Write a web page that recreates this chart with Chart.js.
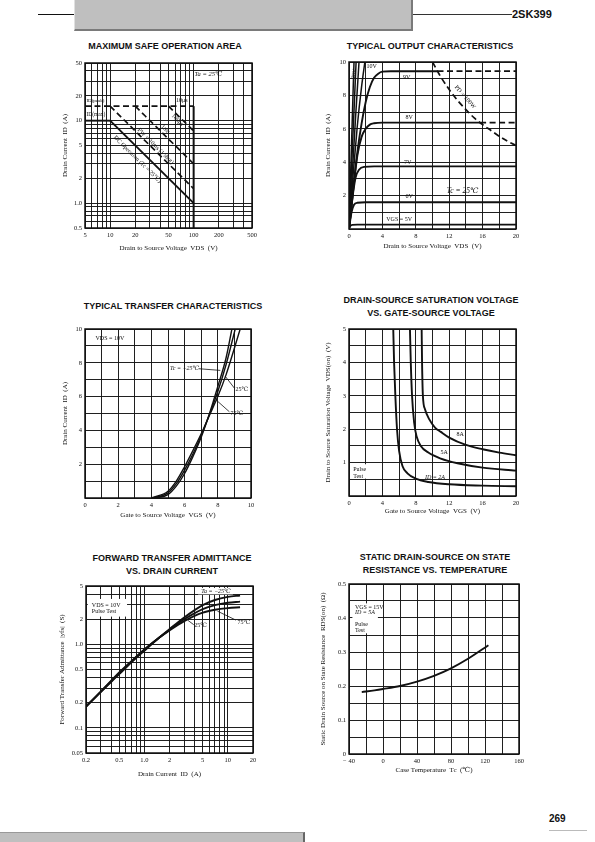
<!DOCTYPE html>
<html>
<head>
<meta charset="utf-8">
<title>2SK399</title>
<script src="https://cdn.jsdelivr.net/npm/chart.js"></script>
<style>
  body { margin: 0; width: 595px; height: 842px; position: relative; background: #fff; overflow: hidden; }
  canvas { position: absolute; }
  .head { position: absolute; width: 220px; font: bold 9px "Liberation Sans", Arial, sans-serif; color: #111;
          text-align: center; white-space: nowrap; line-height: 13px; }
  #lineL { position: absolute; left: 38px; top: 14px; width: 36px; height: 1px; background: #111; }
  #band { position: absolute; left: 74px; top: -3px; width: 336px; height: 32px; background: #bfbfbf;
          border-left: 1px solid #e0e0e0; border-right: 2px solid #7a7a7a; border-bottom: 2px solid #7a7a7a; }
  #lineR { position: absolute; left: 413px; top: 14px; width: 99px; height: 1px; background: #333; }
  #part { position: absolute; left: 512px; top: 8px; font: bold 11px "Liberation Sans", Arial, sans-serif; color: #111; }
  #page { position: absolute; left: 549px; top: 813px; font: bold 10px "Liberation Sans", Arial, sans-serif; color: #111; }
  #pageLine { position: absolute; left: 549px; top: 830px; width: 38px; height: 1px; background: #bbb; }
  #foot { position: absolute; left: 0; top: 832px; width: 303px; height: 12px; background: #bfbfbf;
          border-top: 1px solid #999; border-right: 2px solid #666; }
</style>
</head>
<body>
<div id="lineL"></div><div id="band"></div><div id="lineR"></div><div id="part">2SK399</div>

<div class="head" style="left:55px;top:40px">MAXIMUM SAFE OPERATION AREA</div>
<div class="head" style="left:320px;top:40px">TYPICAL OUTPUT CHARACTERISTICS</div>
<div class="head" style="left:63px;top:300px">TYPICAL TRANSFER CHARACTERISTICS</div>
<div class="head" style="left:321px;top:294px">DRAIN-SOURCE SATURATION VOLTAGE<br>VS. GATE-SOURCE VOLTAGE</div>
<div class="head" style="left:62px;top:552px">FORWARD TRANSFER ADMITTANCE<br>VS. DRAIN CURRENT</div>
<div class="head" style="left:325px;top:551px">STATIC DRAIN-SOURCE ON STATE<br>RESISTANCE VS. TEMPERATURE</div>

<canvas id="soa"></canvas>
<canvas id="output"></canvas>
<canvas id="transfer"></canvas>
<canvas id="sat"></canvas>
<canvas id="yfs"></canvas>
<canvas id="rds"></canvas>

<div id="page">269</div><div id="pageLine"></div><div id="foot"></div>

<script>
// maximum safe operation area (log-log)
const soaXGrid = [5, 6, 7, 8, 9, 10, 20, 30, 40, 50, 60, 70, 80, 90, 100, 200, 300, 400, 500];
const soaXTicks = [5, 10, 20, 50, 100, 200, 500];
const soaYGrid = [0.5, 0.6, 0.7, 0.8, 0.9, 1, 2, 3, 4, 5, 6, 7, 8, 9, 10, 20, 30, 40, 50];
const soaYTicks = [0.5, 1, 2, 5, 10, 20, 50];
const soaYText = ['0.5', '1.0', '2', '5', '10', '20', '50'];
const soaIdMaxV = [5, 10],   soaIdMaxI = [10, 10];
const soaIdPeakV = [5, 100], soaIdPeakI = [15, 15];
const soaDcV = [10, 100],    soaDcI = [10, 1.0];
const soa10msV = [10, 100],  soa10msI = [15, 1.5];
const soa1msV = [20, 100],   soa1msI = [15, 3.0];
const soa100usV = [50, 100], soa100usI = [15, 7.5];
const soaVdssV = [100, 100], soaVdssI = [15, 0.5];

// typical output characteristics
const outXGrid = [0, 2, 4, 6, 8, 10, 12, 14, 16, 18, 20];
const outXTicks = [0, 4, 8, 12, 16, 20];
const outYGrid = [0, 1, 2, 3, 4, 5, 6, 7, 8, 9, 10];
const outYTicks = [2, 4, 6, 8, 10];
const out5V = [0, 0.15, 0.4, 1, 20],            out5I = [0, 0.18, 0.25, 0.26, 0.26];
const out6V = [0, 0.3, 0.6, 1.0, 2, 20],        out6I = [0, 1.0, 1.45, 1.57, 1.6, 1.6];
const out7V = [0, 0.5, 0.8, 1.2, 1.8, 3, 20],   out7I = [0, 2.2, 3.1, 3.55, 3.72, 3.75, 3.75];
const out8V = [0, 0.5, 1, 1.5, 2, 2.5, 3, 4, 15.7], out8I = [0, 2.3, 4.4, 5.5, 6.0, 6.25, 6.33, 6.37, 6.37];
const out8DashV = [15.7, 20], out8DashI = [6.37, 6.37];
const out9V = [0, 0.5, 1, 1.5, 2, 2.5, 3, 3.5, 4, 5, 10.6], out9I = [0, 2.4, 4.6, 6.3, 7.6, 8.5, 9.05, 9.3, 9.42, 9.45, 9.45];
const out9DashV = [10.6, 20], out9DashI = [9.45, 9.45];
const out10V = [0, 0.5, 1, 1.5, 1.9], out10I = [0, 3.3, 6.2, 8.5, 10];
const out12V = [0, 0.4, 0.8, 1.2],    out12I = [0, 3.4, 6.8, 10];
const out15V = [0, 0.3, 0.6, 0.85],   out15I = [0, 3.6, 7.1, 10];
const out20V = [0, 0.25, 0.5, 0.6],   out20I = [0, 4.2, 8.4, 10];
const outPdV = [10, 11, 12, 13, 14, 15, 16, 17, 18, 19, 20];
const outPdI = [10, 9.1, 8.35, 7.7, 7.15, 6.65, 6.25, 5.9, 5.55, 5.25, 5.0];

// typical transfer characteristics
const trXGrid = [0, 1, 2, 3, 4, 5, 6, 7, 8, 9, 10];
const trXTicks = [0, 2, 4, 6, 8, 10];
const trYGrid = [0, 1, 2, 3, 4, 5, 6, 7, 8, 9, 10];
const trYTicks = [2, 4, 6, 8, 10];
const trM25V = [4.2, 5, 5.5, 6, 6.5, 7, 7.5, 8, 8.5, 8.85], trM25I = [0, 0.2, 0.7, 1.45, 2.45, 3.6, 5.0, 6.6, 8.3, 10];
const tr25V = [4.1, 5, 5.5, 6, 6.5, 7, 7.5, 8, 8.5, 9.05],  tr25I = [0, 0.3, 0.85, 1.65, 2.6, 3.7, 4.95, 6.3, 7.9, 10];
const tr75V = [4.0, 5, 5.5, 6, 6.5, 7, 7.5, 8, 8.5, 9.35],  tr75I = [0, 0.4, 1.0, 1.85, 2.8, 3.8, 4.9, 6.0, 7.3, 10];
const trLeadM25V = [6.85, 8.15], trLeadM25I = [7.65, 7.55];
const trLead25V = [9.0, 8.45],   trLead25I = [6.5, 7.2];
const trLead75V = [8.7, 7.9],    trLead75I = [5.1, 5.8];

// drain-source saturation voltage vs gate-source voltage
const satXGrid = [0, 2, 4, 6, 8, 10, 12, 14, 16, 18, 20];
const satXTicks = [0, 4, 8, 12, 16, 20];
const satYGrid = [0, 0.5, 1, 1.5, 2, 2.5, 3, 3.5, 4, 4.5, 5];
const satYTicks = [1, 2, 3, 4, 5];
const sat2AVgs = [5.3, 5.4, 5.55, 5.75, 6.0, 6.4, 7.0, 8.0, 9.5, 12, 16, 20];
const sat2AVds = [5, 4, 3, 2, 1.35, 0.9, 0.68, 0.52, 0.42, 0.35, 0.31, 0.29];
const sat5AVgs = [7.3, 7.4, 7.55, 7.8, 8.1, 8.6, 9.5, 11, 13, 16, 20];
const sat5AVds = [5, 4, 3, 2.2, 1.78, 1.5, 1.3, 1.12, 0.98, 0.85, 0.76];
const sat8AVgs = [8.7, 8.75, 8.85, 9.1, 9.6, 10.3, 11, 12, 14, 16, 18, 20];
const sat8AVds = [5, 4, 3, 2.6, 2.3, 2.05, 1.92, 1.75, 1.53, 1.4, 1.3, 1.22];

// forward transfer admittance vs drain current (log-log)
const yfsXGrid = [0.2, 0.3, 0.4, 0.5, 0.6, 0.7, 0.8, 0.9, 1, 2, 3, 4, 5, 6, 7, 8, 9, 10, 20];
const yfsXTicks = [0.2, 0.5, 1, 2, 5, 10, 20];
const yfsXText = ['0.2', '0.5', '1.0', '2', '5', '10', '20'];
const yfsYGrid = [0.05, 0.06, 0.07, 0.08, 0.09, 0.1, 0.2, 0.3, 0.4, 0.5, 0.6, 0.7, 0.8, 0.9, 1, 2, 3, 4, 5];
const yfsYTicks = [0.05, 0.1, 0.2, 0.5, 1, 2, 5];
const yfsYText = ['0.05', '0.1', '0.2', '0.5', '1.0', '2', '5'];
const yfsId = [0.2, 0.3, 0.5, 0.7, 1, 1.5, 2, 3, 5, 7, 10, 14];
const yfsM25 = [0.18, 0.27, 0.44, 0.61, 0.84, 1.2, 1.52, 2.1, 2.95, 3.4, 3.7, 3.85];
const yfs25 = [0.18, 0.27, 0.45, 0.62, 0.86, 1.2, 1.5, 2.0, 2.65, 2.95, 3.15, 3.25];
const yfs75 = [0.18, 0.27, 0.46, 0.63, 0.87, 1.2, 1.47, 1.9, 2.4, 2.6, 2.72, 2.78];
const yfsLead75X = [12.5, 7.5], yfsLead75Y = [1.95, 2.5];
const yfsLead25X = [3.9, 3.3],  yfsLead25Y = [1.72, 1.95];

// static drain-source on state resistance vs temperature
const rdsXGrid = [-40, -20, 0, 20, 40, 60, 80, 100, 120, 140, 160];
const rdsXTicks = [-40, 0, 40, 80, 120, 160];
const rdsXText = ['− 40', '0', '40', '80', '120', '160'];
const rdsYGrid = [0, 0.05, 0.1, 0.15, 0.2, 0.25, 0.3, 0.35, 0.4, 0.45, 0.5];
const rdsYTicks = [0, 0.1, 0.2, 0.3, 0.4, 0.5];
const rdsTc = [-25, -10, 0, 20, 40, 60, 80, 100, 124];
const rdsOhm = [0.182, 0.187, 0.191, 0.2, 0.213, 0.23, 0.252, 0.28, 0.32];

const SERIF = '"Liberation Serif", "DejaVu Serif", serif';
const INK = '#111';

function pts(xs, ys) { return xs.map((x, i) => ({ x: x, y: ys[i] })); }

function curve(xs, ys, extra) {
  return Object.assign({ data: pts(xs, ys), showLine: true, borderColor: INK, borderWidth: 1.9,
    pointRadius: 0, fill: false, cubicInterpolationMode: 'monotone' }, extra || {});
}
const DASH = { borderDash: [6, 3.5], borderWidth: 1.7 };
const THIN = { borderWidth: 0.8 };

function axis(type, min, max, grid, ticks, text, title, size) {
  return {
    type: type, min: min, max: max,
    afterBuildTicks: s => { s.ticks = grid.map(v => ({ value: v })); },
    afterFit: s => {
      if (s.isHorizontal()) s.height = size; else s.width = size;
      s.paddingLeft = s.paddingRight = s.paddingTop = s.paddingBottom = 0;
    },
    ticks: {
      autoSkip: false, maxRotation: 0, padding: 3, color: INK, font: { family: SERIF, size: 6.5 },
      callback: v => { const i = ticks.indexOf(v); return i < 0 ? '' : (text ? text[i] : String(v)); }
    },
    grid: { color: '#141414', lineWidth: 0.95, drawTicks: false },
    border: { display: false },
    title: { display: true, text: title, padding: 0, color: INK, font: { family: SERIF, size: 7 } }
  };
}

// text labels, white patches and the heavy frame, drawn in data coordinates
function notesPlugin(notes, boxes) {
  return {
    id: 'notes',
    afterDatasetsDraw(chart) {
      const { ctx, chartArea: a } = chart;
      const sx = chart.scales.x, sy = chart.scales.y;
      ctx.save();
      ctx.fillStyle = '#fff';
      (boxes || []).forEach(b => {
        const x1 = sx.getPixelForValue(b[0]), y1 = sy.getPixelForValue(b[1]);
        const x2 = sx.getPixelForValue(b[2]), y2 = sy.getPixelForValue(b[3]);
        ctx.fillRect(Math.min(x1, x2), Math.min(y1, y2), Math.abs(x2 - x1), Math.abs(y2 - y1));
      });
      ctx.fillStyle = INK;
      ctx.textBaseline = 'middle';
      notes.forEach(n => {
        ctx.save();
        ctx.font = (n.italic ? 'italic ' : '') + (n.size || 6.5) + 'px ' + SERIF;
        ctx.textAlign = n.align || 'center';
        ctx.translate(sx.getPixelForValue(n.x), sy.getPixelForValue(n.y));
        let ang = (n.rot || 0) * Math.PI / 180;
        if (n.along) {
          const dx = sx.getPixelForValue(n.along[2]) - sx.getPixelForValue(n.along[0]);
          const dy = sy.getPixelForValue(n.along[3]) - sy.getPixelForValue(n.along[1]);
          ang = Math.atan2(dy, dx);
        }
        ctx.rotate(ang);
        ctx.fillText(n.t, 0, 0);
        ctx.restore();
      });
      ctx.strokeStyle = INK;
      ctx.lineWidth = 1.5;
      ctx.strokeRect(a.left, a.top, a.right - a.left, a.bottom - a.top);
      ctx.restore();
    }
  };
}

function makeChart(id, geo, xAxis, yAxis, datasets, notes, boxes) {
  const left = Math.round(geo.yTitleX - 4), top = geo.T - 10;
  const right = geo.R + 14, bottom = Math.round(geo.xTitleY + 4);
  const cv = document.getElementById(id);
  cv.width = right - left;
  cv.height = bottom - top;
  cv.style.left = left + 'px';
  cv.style.top = top + 'px';
  new Chart(cv.getContext('2d'), {
    type: 'scatter',
    data: { datasets: datasets },
    options: {
      responsive: false, animation: false, events: [],
      layout: { padding: { left: 0, top: 10, right: 14, bottom: 0 } },
      plugins: { legend: { display: false }, tooltip: { enabled: false } },
      scales: { x: xAxis(bottom - geo.B), y: yAxis(geo.L - left) }
    },
    plugins: [notesPlugin(notes, boxes)]
  });
}

makeChart('soa', { L: 85, T: 63, R: 252, B: 228, yTitleX: 65, xTitleY: 248 },
  s => axis('logarithmic', 5, 500, soaXGrid, soaXTicks, null, 'Drain to Source Voltage  VDS  (V)', s),
  s => axis('logarithmic', 0.5, 50, soaYGrid, soaYTicks, soaYText, 'Drain Current  ID  (A)', s),
  [
    curve(soaIdMaxV, soaIdMaxI),
    curve(soaIdPeakV, soaIdPeakI, DASH),
    curve(soaDcV, soaDcI),
    curve(soa10msV, soa10msI, DASH),
    curve(soa1msV, soa1msI, DASH),
    curve(soa100usV, soa100usI, DASH),
    curve(soaVdssV, soaVdssI, { borderWidth: 2 })
  ],
  [
    { x: 150, y: 36, t: 'Ta = 25℃', italic: true },
    { x: 5.2, y: 17.6, t: 'ID(peak)', align: 'left', size: 5 },
    { x: 5.2, y: 11.7, t: 'ID(max)', align: 'left', size: 5.5 },
    { x: 72, y: 17.6, t: '10μs', size: 6 },
    { x: 64, y: 10.2, t: '100μs', size: 6, along: [50, 15, 100, 7.5] },
    { x: 46, y: 7.85, t: '1ms', size: 6, along: [20, 15, 100, 3] },
    { x: 35, y: 4.9, t: 'PW = 10ms (1 shot)', size: 6, along: [10, 15, 100, 1.5] },
    { x: 21.2, y: 3.4, t: 'DC Operation (Tc = 25℃)', size: 6, along: [10, 10, 100, 1] }
  ]);

makeChart('output', { L: 349, T: 62, R: 516, B: 229, yTitleX: 328, xTitleY: 246 },
  s => axis('linear', 0, 20, outXGrid, outXTicks, null, 'Drain to Source Voltage  VDS  (V)', s),
  s => axis('linear', 0, 10, outYGrid, outYTicks, null, 'Drain Current  ID  (A)', s),
  [
    curve(out5V, out5I), curve(out6V, out6I), curve(out7V, out7I),
    curve(out8V, out8I), curve(out8DashV, out8DashI, DASH),
    curve(out9V, out9I), curve(out9DashV, out9DashI, DASH),
    curve(out10V, out10I, { borderWidth: 1.5 }), curve(out12V, out12I, { borderWidth: 1.5 }),
    curve(out15V, out15I, { borderWidth: 1.5 }), curve(out20V, out20I, { borderWidth: 1.5 }),
    curve(outPdV, outPdI, DASH)
  ],
  [
    { x: 0.62, y: 9.3, t: '20V', rot: -80, size: 5.5 },
    { x: 2.7, y: 9.75, t: '10V', size: 6 },
    { x: 6.9, y: 9.1, t: '9V', size: 6 },
    { x: 7.2, y: 6.7, t: '8V', size: 6 },
    { x: 6.9, y: 4.0, t: '-7V', size: 6 },
    { x: 7.2, y: 1.95, t: '6V', size: 6 },
    { x: 6.0, y: 0.6, t: 'VGS = 5V', size: 6 },
    { x: 13.6, y: 2.25, t: 'Tc = 25℃', size: 7.5, italic: true },
    { x: 13.9, y: 7.9, t: 'PD = 100W', size: 6, along: [12, 8.35, 15, 6.65] }
  ]);

makeChart('transfer', { L: 85, T: 329, R: 251, B: 498, yTitleX: 65, xTitleY: 515 },
  s => axis('linear', 0, 10, trXGrid, trXTicks, null, 'Gate to Source Voltage  VGS  (V)', s),
  s => axis('linear', 0, 10, trYGrid, trYTicks, null, 'Drain Current  ID  (A)', s),
  [
    curve(trM25V, trM25I, { borderWidth: 1.4 }), curve(tr25V, tr25I, { borderWidth: 1.4 }),
    curve(tr75V, tr75I, { borderWidth: 1.4 }),
    curve(trLeadM25V, trLeadM25I, THIN), curve(trLead25V, trLead25I, THIN), curve(trLead75V, trLead75I, THIN)
  ],
  [
    { x: 1.5, y: 9.45, t: 'VDS = 10V', size: 6 },
    { x: 6.0, y: 7.65, t: 'Tc = −25℃', size: 6, italic: true },
    { x: 9.45, y: 6.4, t: '25℃', size: 6 },
    { x: 9.15, y: 5.0, t: '75℃', size: 6 }
  ]);

makeChart('sat', { L: 349, T: 329, R: 516, B: 496, yTitleX: 328, xTitleY: 511 },
  s => axis('linear', 0, 20, satXGrid, satXTicks, null, 'Gate to Source Voltage  VGS  (V)', s),
  s => axis('linear', 0, 5, satYGrid, satYTicks, null, 'Drain to Source Saturation Voltage  VDS(on)  (V)', s),
  [curve(sat2AVgs, sat2AVds), curve(sat5AVgs, sat5AVds), curve(sat8AVgs, sat8AVds)],
  [
    { x: 13.3, y: 1.84, t: '8A', size: 6 },
    { x: 11.4, y: 1.3, t: '5A', size: 6 },
    { x: 10.3, y: 0.55, t: 'ID = 2A', size: 6, italic: true },
    { x: 0.5, y: 0.8, t: 'Pulse', size: 6, align: 'left' },
    { x: 0.5, y: 0.6, t: 'Test', size: 6, align: 'left' }
  ],
  [[0.2, 0.52, 3.8, 0.95]]);

makeChart('yfs', { L: 86, T: 586, R: 253, B: 753, yTitleX: 62, xTitleY: 774 },
  s => axis('logarithmic', 0.2, 20, yfsXGrid, yfsXTicks, yfsXText, 'Drain Current  ID  (A)', s),
  s => axis('logarithmic', 0.05, 5, yfsYGrid, yfsYTicks, yfsYText, 'Forward Transfer Admittance  |yfs|  (S)', s),
  [
    curve(yfsId, yfsM25), curve(yfsId, yfs25), curve(yfsId, yfs75),
    curve(yfsLead75X, yfsLead75Y, THIN), curve(yfsLead25X, yfsLead25Y, THIN)
  ],
  [
    { x: 0.235, y: 2.9, t: 'VDS = 10V', size: 6, align: 'left' },
    { x: 0.235, y: 2.5, t: 'Pulse Test', size: 6, align: 'left' },
    { x: 7.2, y: 4.3, t: 'Ta = −25℃', size: 6, italic: true },
    { x: 4.7, y: 1.68, t: '25℃', size: 6 },
    { x: 15.5, y: 1.82, t: '75℃', size: 6 }
  ],
  [[0.21, 2.15, 0.62, 3.5], [4.4, 3.97, 11.5, 4.75]]);

makeChart('rds', { L: 349, T: 584, R: 519, B: 754, yTitleX: 323, xTitleY: 770 },
  s => axis('linear', -40, 160, rdsXGrid, rdsXTicks, rdsXText, 'Case Temperature  Tc  (℃)', s),
  s => axis('linear', 0, 0.5, rdsYGrid, rdsYTicks, null, 'Static Drain Source on State Resistance  RDS(on)  (Ω)', s),
  [curve(rdsTc, rdsOhm)],
  [
    { x: -33, y: 0.431, t: 'VGS = 15V', size: 6, align: 'left' },
    { x: -33, y: 0.416, t: 'ID = 5A', size: 6, align: 'left', italic: true },
    { x: -33, y: 0.381, t: 'Pulse', size: 6, align: 'left' },
    { x: -33, y: 0.364, t: 'Test', size: 6, align: 'left' }
  ],
  [[-36, 0.355, -6, 0.443]]);
</script>
</body>
</html>
